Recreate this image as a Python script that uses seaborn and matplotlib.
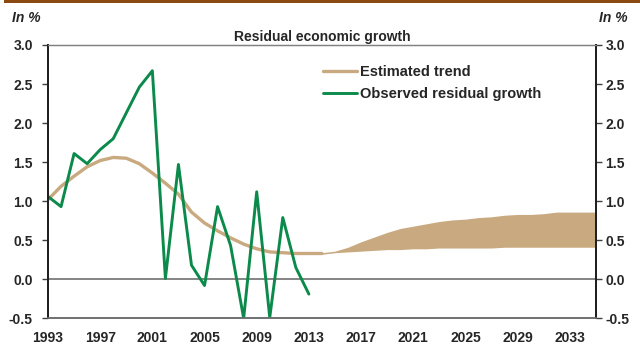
import matplotlib
matplotlib.use("Agg")
import matplotlib.pyplot as plt
import seaborn as sns
import pandas as pd

# Observed residual growth, 1993-2013 (in %)
obs_years = list(range(1993, 2014))
observed = [1.06, 0.93, 1.61, 1.48, 1.66, 1.80, 2.13, 2.46, 2.67, 0.01, 1.47,
            0.18, -0.08, 0.93, 0.43, -0.50, 1.12, -0.49, 0.79, 0.15, -0.19]

# Estimated trend, 1993-2014 (in %)
trend_years = list(range(1993, 2015))
trend = [1.02, 1.19, 1.32, 1.44, 1.52, 1.56, 1.55, 1.48, 1.36, 1.23, 1.09,
         0.86, 0.72, 0.62, 0.53, 0.45, 0.39, 0.35, 0.34, 0.33, 0.33, 0.33]

# Projected trend range, 2014-2035 (in %)
band_years = list(range(2014, 2036))
band_low = [0.32, 0.34, 0.35, 0.36, 0.37, 0.38, 0.38, 0.39, 0.39, 0.40, 0.40,
            0.40, 0.40, 0.40, 0.41, 0.41, 0.41, 0.41, 0.41, 0.41, 0.41, 0.41]
band_high = [0.34, 0.36, 0.41, 0.48, 0.54, 0.60, 0.65, 0.68, 0.71, 0.74, 0.76,
             0.77, 0.79, 0.80, 0.82, 0.83, 0.83, 0.84, 0.86, 0.86, 0.86, 0.86]

x_ticks = list(range(1993, 2036, 4))
y_ticks = [-0.5, 0.0, 0.5, 1.0, 1.5, 2.0, 2.5, 3.0]

GREEN = "#0C8A4B"
TAN = "#C9A97F"
BROWN = "#8B4A12"
FS = 10

sns.set_theme(style="white")
plt.rcParams["font.family"] = ["Liberation Sans", "DejaVu Sans"]
plt.rcParams["font.weight"] = "bold"

fig = plt.figure(figsize=(6.4, 3.44), dpi=100)
ax = fig.add_axes([0.075, 0.0747, 0.856, 0.7945])

obs_df = pd.DataFrame({"year": obs_years, "value": observed})
trend_df = pd.DataFrame({"year": trend_years, "value": trend})

ax.fill_between(band_years, band_low, band_high, color=TAN, linewidth=0, zorder=2)
sns.lineplot(data=trend_df, x="year", y="value", ax=ax, color=TAN, linewidth=2.4,
             label="Estimated trend", zorder=3)
sns.lineplot(data=obs_df, x="year", y="value", ax=ax, color=GREEN, linewidth=2.1,
             label="Observed residual growth", zorder=4)

ax.axhline(0, color="#707070", linewidth=1.2, zorder=1)

ax.set_xlim(1993, 2035)
ax.set_ylim(-0.5, 3.0)
ax.set_xticks(x_ticks)
ax.set_yticks(y_ticks)
ax.set_xticklabels([str(t) for t in x_ticks], fontsize=FS, fontweight="bold")
ax.set_yticklabels([f"{t:.1f}" for t in y_ticks], fontsize=FS, fontweight="bold")
ax.set_xlabel("")
ax.set_ylabel("")
ax.tick_params(axis="x", length=0, pad=9)
ax.tick_params(axis="y", direction="out", length=4, width=1, color="#404040",
               left=True, right=False, pad=7)

# mirrored value axis on the right
ax2 = ax.twinx()
ax2.set_ylim(-0.5, 3.0)
ax2.set_yticks(y_ticks)
ax2.set_yticklabels([f"{t:.1f}" for t in y_ticks], fontsize=FS, fontweight="bold")
ax2.tick_params(axis="y", direction="out", length=4, width=1, color="#404040",
                right=True, pad=3)
ax2.grid(False)

for a in (ax, ax2):
    for side in ["left", "right"]:
        a.spines[side].set_color("#202020")
        a.spines[side].set_linewidth(1.4)
    a.spines["top"].set_color("#808080")
    a.spines["top"].set_linewidth(0.9)
    a.spines["bottom"].set_color("#707070")
    a.spines["bottom"].set_linewidth(1.2)

ax.legend(loc="upper left", bbox_to_anchor=(0.502, 0.928), frameon=False,
          borderpad=0, borderaxespad=0, handlelength=2.3, handletextpad=0.25,
          labelspacing=0.55, prop={"size": 10.5, "weight": "bold"})

fig.text(0.503, 1 - 36.5 / 344, "Residual economic growth", ha="center", va="center",
         fontsize=10, fontweight="bold")
fig.text(12 / 640, 1 - 17.5 / 344, "In %", ha="left", va="center",
         fontsize=10, fontweight="bold", style="italic")
fig.text(628 / 640, 1 - 17.5 / 344, "In %", ha="right", va="center",
         fontsize=10, fontweight="bold", style="italic")

# brown band across the top of the figure
fig.add_artist(plt.Rectangle((4 / 640, 1 - 3 / 344), 1, 3 / 344,
                             transform=fig.transFigure, color=BROWN, linewidth=0))

fig.savefig("out.png", dpi=100, facecolor="white")
